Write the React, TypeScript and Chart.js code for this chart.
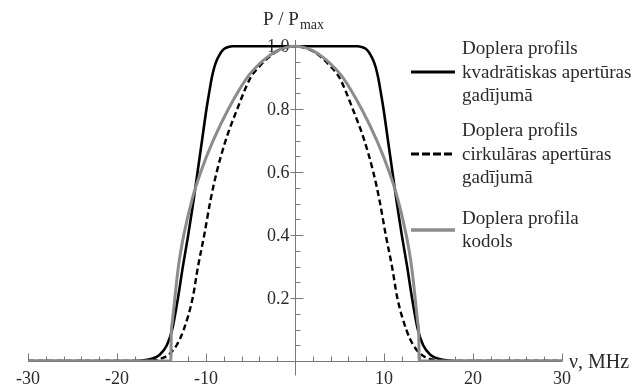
import { useEffect, useRef } from 'react';
import { Chart, registerables } from 'chart.js';

Chart.register(...registerables);

// ---- data ----
const squareNu = [-30, -18.5, -17.5, -16.1, -15.2, -14.4, -13.8, -13.15, -12.6, -12.0, -11.45, -10.95, -10.45, -9.95, -9.6, -9.35, -9.05, -8.8, -8.5, -8.2, -7.9, -7.5, -7.0, 0, 7.0, 7.5, 7.9, 8.2, 8.5, 8.8, 9.05, 9.35, 9.6, 9.95, 10.45, 10.95, 11.45, 12.0, 12.6, 13.15, 13.8, 14.4, 15.2, 16.1, 17.5, 18.5, 30];
const squareP = [0, 0, 0.001, 0.007, 0.02, 0.05, 0.1, 0.2, 0.3, 0.4, 0.5, 0.6, 0.7, 0.8, 0.86, 0.9, 0.935, 0.955, 0.972, 0.985, 0.993, 0.998, 1, 1, 1, 0.998, 0.993, 0.985, 0.972, 0.955, 0.935, 0.9, 0.86, 0.8, 0.7, 0.6, 0.5, 0.4, 0.3, 0.2, 0.1, 0.05, 0.02, 0.007, 0.001, 0, 0];

const circNu = [-30, -17, -16.2, -15.0, -14.2, -13.3, -12.5, -11.5, -10.9, -10.2, -9.5, -8.8, -7.8, -6.5, -5.0, -4, -3, -2, -1, 0, 1, 2, 3, 4, 5.0, 6.5, 7.8, 8.8, 9.5, 10.2, 10.9, 11.5, 12.5, 13.3, 14.2, 15.0, 16.2, 17, 30];
const circP = [0, 0, 0.001, 0.008, 0.02, 0.05, 0.1, 0.2, 0.3, 0.4, 0.51, 0.6, 0.7, 0.8, 0.9, 0.936, 0.964, 0.984, 0.996, 1, 0.996, 0.984, 0.964, 0.936, 0.9, 0.8, 0.7, 0.6, 0.51, 0.4, 0.3, 0.2, 0.1, 0.05, 0.02, 0.008, 0.001, 0, 0];

const coreNu = [-30, -13.95, -13.9, -13.8, -13.5, -13.1, -12.5, -11.5, -10.6, -9.2, -7.5, -5.4, -4, -3, -2, -1, 0, 1, 2, 3, 4, 5.4, 7.5, 9.2, 10.6, 11.5, 12.5, 13.1, 13.5, 13.8, 13.9, 13.95, 30];
const coreP = [0, 0, 0.09, 0.12, 0.2, 0.3, 0.4, 0.52, 0.6, 0.7, 0.8, 0.9, 0.944, 0.968, 0.986, 0.9965, 1, 0.9965, 0.986, 0.968, 0.944, 0.9, 0.8, 0.7, 0.6, 0.52, 0.4, 0.3, 0.2, 0.12, 0.09, 0, 0];

const xTickValues = [-30, -20, -10, 10, 20, 30];
const xTickLabels = ['-30', '-20', '-10', '10', '20', '30'];
const yTickValues = [0.2, 0.4, 0.6, 0.8, 1.0];
const yTickLabels = ['0.2', '0.4', '0.6', '0.8', '1.0'];

const legendTexts = [
  ['Doplera profils', 'kvadrātiskas apertūras', 'gadījumā'],
  ['Doplera profils', 'cirkulāras apertūras', 'gadījumā'],
  ['Doplera profila', 'kodols'],
];

const yTitleMain = 'P / P';
const yTitleSub = 'max';
const xTitle = 'ν, MHz';

// ---- styles ----
const SERIF = '"Liberation Serif", "DejaVu Serif", serif';
const BLACK = '#000000';
const GRAY = '#8c8c8c';
const AXIS = '#7a7a7a';
const TEXT = '#2a2a2a';

const styles = [
  { color: BLACK, width: 2.6, dash: [] as number[], legendDash: [] as number[], legendY: 72 },
  { color: BLACK, width: 2.4, dash: [6, 3.5], legendDash: [8, 3], legendY: 154 },
  { color: GRAY, width: 3, dash: [] as number[], legendDash: [] as number[], legendY: 230 },
];

const toPoints = (xs: number[], ys: number[]) => xs.map((x, i) => ({ x, y: ys[i] }));

const axesPlugin = {
  id: 'customAxes',
  beforeDatasetsDraw(chart: any) {
    const { ctx } = chart;
    const xs = chart.scales.x;
    const ys = chart.scales.y;
    const x0 = Math.round(xs.getPixelForValue(0)) + 0.5;
    const y0 = Math.round(ys.getPixelForValue(0)) + 0.5;
    ctx.save();
    ctx.strokeStyle = AXIS;
    ctx.lineWidth = 1;
    const seg = (a: number, b: number, c: number, d: number) => {
      ctx.beginPath();
      ctx.moveTo(a, b);
      ctx.lineTo(c, d);
      ctx.stroke();
    };
    // axis lines
    seg(xs.getPixelForValue(-30), y0, xs.getPixelForValue(30), y0);
    seg(x0, ys.getPixelForValue(1.02), x0, y0 + 14);
    // x ticks every 2
    for (let k = -15; k <= 15; k++) {
      if (k === 0) continue;
      const v = k * 2;
      const px = Math.round(xs.getPixelForValue(v)) + 0.5;
      const len = v % 10 === 0 ? 8 : 5;
      seg(px, y0, px, y0 - len);
    }
    // y ticks every 0.05
    for (let k = 1; k <= 20; k++) {
      const py = Math.round(ys.getPixelForValue(k * 0.05)) + 0.5;
      const major = k % 4 === 0;
      seg(x0 - (major ? 5 : 0), py, x0 + (major ? 8 : 5), py);
    }
    // labels
    ctx.fillStyle = TEXT;
    ctx.font = `18px ${SERIF}`;
    ctx.textAlign = 'center';
    ctx.textBaseline = 'alphabetic';
    xTickValues.forEach((v, i) => {
      ctx.fillText(xTickLabels[i], xs.getPixelForValue(v), y0 + 22);
    });
    ctx.textAlign = 'right';
    yTickValues.forEach((v, i) => {
      ctx.fillText(yTickLabels[i], x0 - 6, ys.getPixelForValue(v) + 6);
    });
    ctx.restore();
  },
};

const overlayPlugin = {
  id: 'overlay',
  afterDraw(chart: any) {
    const { ctx } = chart;
    ctx.save();
    ctx.fillStyle = TEXT;
    ctx.textBaseline = 'alphabetic';
    ctx.textAlign = 'left';
    // y title
    ctx.font = `19px ${SERIF}`;
    ctx.fillText(yTitleMain, 263, 25);
    const w = ctx.measureText(yTitleMain).width;
    ctx.font = `14px ${SERIF}`;
    ctx.fillText(yTitleSub, 263 + w + 1, 29);
    // x title
    ctx.font = `20px ${SERIF}`;
    ctx.fillText(xTitle, 569, 368);
    // legend
    legendTexts.forEach((lines, i) => {
      const st = styles[i];
      ctx.save();
      ctx.strokeStyle = st.color;
      ctx.lineWidth = st.width + 0.4;
      ctx.setLineDash(st.legendDash);
      ctx.beginPath();
      ctx.moveTo(411, st.legendY);
      ctx.lineTo(455, st.legendY);
      ctx.stroke();
      ctx.restore();
      ctx.font = `19px ${SERIF}`;
      const n = lines.length;
      lines.forEach((t, j) => {
        const cy = st.legendY + (j - (n - 1) / 2) * 23.4;
        ctx.fillText(t, 462, cy + 5.5);
      });
    });
    ctx.restore();
  },
};

export default function App() {
  const ref = useRef<HTMLCanvasElement>(null);
  useEffect(() => {
    if (!ref.current) return;
    const series = [
      toPoints(squareNu, squareP),
      toPoints(circNu, circP),
      toPoints(coreNu, coreP),
    ];
    const chart = new Chart(ref.current, {
      type: 'line',
      data: {
        datasets: series.map((data, i) => ({
          data,
          borderColor: styles[i].color,
          borderWidth: styles[i].width,
          borderDash: styles[i].dash,
          cubicInterpolationMode: 'monotone' as const,
          pointRadius: 0,
          fill: false,
          order: 3 - i,
        })),
      },
      options: {
        animation: false,
        responsive: false,
        maintainAspectRatio: false,
        layout: { padding: { left: 28, right: 76, top: 40, bottom: 31 } },
        scales: {
          x: { type: 'linear', min: -30, max: 30, display: false },
          y: { type: 'linear', min: 0, max: 1.02, display: false },
        },
        plugins: { legend: { display: false }, tooltip: { enabled: false } },
        events: [],
      },
      plugins: [axesPlugin, overlayPlugin],
    });
    return () => chart.destroy();
  }, []);
  return (
    <div style={{ position: 'absolute', left: 0, top: 0, width: 638, height: 392, background: '#fff' }}>
      <canvas ref={ref} width={638} height={392} style={{ display: 'block' }} />
    </div>
  );
}
